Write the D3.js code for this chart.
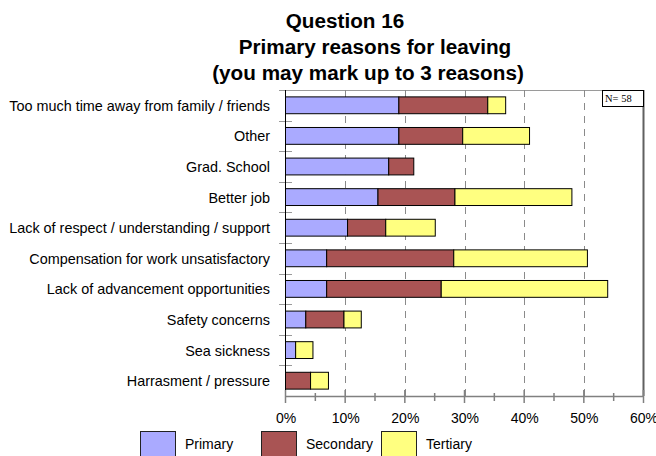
<!DOCTYPE html>
<html>
<head>
<meta charset="utf-8">
<script src="https://cdn.jsdelivr.net/npm/d3@7/dist/d3.min.js"></script>
<style>
  html, body { margin: 0; padding: 0; background: #fff; }
  svg { display: block; font-family: "Liberation Sans", Arial, sans-serif; }
</style>
</head>
<body>
<svg id="chart" width="656" height="456"></svg>
<script>
// Survey question 16: primary reasons for leaving (percent of respondents, N = 58)
const categories = [
  "Too much time away from family / friends",
  "Other",
  "Grad. School",
  "Better job",
  "Lack of respect / understanding / support",
  "Compensation for work unsatisfactory",
  "Lack of advancement opportunities",
  "Safety concerns",
  "Sea sickness",
  "Harrasment / pressure"
];
const primary   = [19.0, 19.0, 17.3, 15.5, 10.4,  6.9,  6.9, 3.4, 1.7, 0.0];
const secondary = [14.9, 10.7,  4.2, 12.9,  6.4, 21.3, 19.2, 6.4, 0.0, 4.2];
const tertiary  = [ 3.0, 11.2,  0.0, 19.6,  8.3, 22.4, 27.9, 2.9, 2.9, 3.0];
const seriesNames = ["Primary", "Secondary", "Tertiary"];
const seriesColors = ["#aaaaff", "#a95454", "#ffff80"];
const xTicks = [0, 10, 20, 30, 40, 50, 60];
const titleLines = ["Question 16", "Primary reasons for leaving", "(you may mark up to 3 reasons)"];
const sampleNote = "N= 58";

const svg = d3.select("#chart");

const plotLeft = 285.5, plotRight = 643.5, plotTop = 90, plotBottom = 396;

const x = d3.scaleLinear().domain([0, 60]).range([plotLeft, plotRight]);
const y = d3.scaleBand().domain(categories).range([plotTop, plotBottom])
  .paddingInner(0.45).paddingOuter(0.225);

// Title
const titleX = [345, 375, 368];
const titleY = [27.5, 54, 79.5];
svg.selectAll("text.title").data(titleLines).join("text")
  .attr("class", "title")
  .attr("x", (d, i) => titleX[i])
  .attr("y", (d, i) => titleY[i])
  .attr("text-anchor", "middle")
  .attr("font-size", 20.7)
  .attr("font-weight", "bold")
  .attr("fill", "#000")
  .text(d => d);

// Top frame line
svg.append("line")
  .attr("x1", 279).attr("x2", plotRight)
  .attr("y1", plotTop + 0.5).attr("y2", plotTop + 0.5)
  .attr("stroke", "#9a9a9a").attr("stroke-width", 1);

// Dashed vertical gridlines
svg.append("g").selectAll("line").data(xTicks.filter(t => t > 0 && t < 60)).join("line")
  .attr("x1", d => Math.round(x(d)) + 0.5).attr("x2", d => Math.round(x(d)) + 0.5)
  .attr("y1", plotTop).attr("y2", plotBottom)
  .attr("stroke", "#8a8a8a").attr("stroke-width", 1)
  .attr("stroke-dasharray", "7,6");

// Right frame line
svg.append("line")
  .attr("x1", plotRight).attr("x2", plotRight)
  .attr("y1", plotTop).attr("y2", plotBottom)
  .attr("stroke", "#606060").attr("stroke-width", 2);

// Category boundary ticks on the category axis
const step = y.step();
const bounds = d3.range(1, categories.length).map(i => plotTop + i * step);
svg.append("g").selectAll("line").data(bounds).join("line")
  .attr("x1", 279).attr("x2", 292)
  .attr("y1", d => Math.round(d) + 0.5).attr("y2", d => Math.round(d) + 0.5)
  .attr("stroke", "#9a9a9a").attr("stroke-width", 1);

// Stacked bars
const rows = categories.map((c, i) => ({ cat: c, vals: [primary[i], secondary[i], tertiary[i]] }));
const barG = svg.append("g");
rows.forEach(r => {
  let acc = 0;
  r.vals.forEach((v, k) => {
    if (v > 0) {
      barG.append("rect")
        .attr("x", x(acc))
        .attr("y", y(r.cat))
        .attr("width", x(acc + v) - x(acc))
        .attr("height", y.bandwidth())
        .attr("fill", seriesColors[k])
        .attr("stroke", "#000")
        .attr("stroke-width", 1);
    }
    acc += v;
  });
});

// Category labels
svg.append("g").selectAll("text").data(categories).join("text")
  .attr("x", 270)
  .attr("y", d => y(d) + y.bandwidth() / 2 + 5.5)
  .attr("text-anchor", "end")
  .attr("font-size", 14.4)
  .attr("fill", "#000")
  .text(d => d);

// Left axis line
svg.append("line")
  .attr("x1", plotLeft).attr("x2", plotLeft)
  .attr("y1", plotTop).attr("y2", plotBottom)
  .attr("stroke", "#000").attr("stroke-width", 1);

// Bottom value axis
const xAxis = d3.axisBottom(x).tickValues(xTicks).tickFormat(d => d + "%").tickSize(0);
const axG = svg.append("g").attr("transform", `translate(0,${plotBottom})`).call(xAxis);
axG.select(".domain").attr("stroke", "#808080").attr("stroke-width", 1.5);
axG.selectAll(".tick text")
  .attr("font-family", "'Liberation Sans', Arial, sans-serif")
  .attr("font-size", 14)
  .attr("fill", "#000")
  .attr("dy", null)
  .attr("y", 27);
// major and minor tick marks crossing the axis
svg.append("g").selectAll("line").data(xTicks).join("line")
  .attr("x1", d => x(d)).attr("x2", d => x(d))
  .attr("y1", plotBottom - 6).attr("y2", plotBottom + 7)
  .attr("stroke", "#808080").attr("stroke-width", 1.5);
svg.append("g").selectAll("line").data(xTicks.slice(0, -1).map(d => d + 5)).join("line")
  .attr("x1", d => x(d)).attr("x2", d => x(d))
  .attr("y1", plotBottom - 3).attr("y2", plotBottom + 5)
  .attr("stroke", "#808080").attr("stroke-width", 1.5);

// Sample size note
svg.append("rect")
  .attr("x", 602.5).attr("y", 90.5).attr("width", 41).attr("height", 16)
  .attr("fill", "#fff").attr("stroke", "#000").attr("stroke-width", 1);
svg.append("text")
  .attr("x", 605).attr("y", 101.5)
  .attr("font-family", "'Liberation Serif', 'Times New Roman', serif")
  .attr("font-size", 10.5)
  .attr("fill", "#000")
  .text(sampleNote);

// Legend
const legendBoxX = [140, 261, 381];
const legendTextX = [185, 306, 426];
const lg = svg.append("g");
seriesNames.forEach((name, k) => {
  lg.append("rect")
    .attr("x", legendBoxX[k] + 0.5).attr("y", 431.5)
    .attr("width", 35).attr("height", 30)
    .attr("fill", seriesColors[k]).attr("stroke", "#222").attr("stroke-width", 1);
  lg.append("text")
    .attr("x", legendTextX[k]).attr("y", 448.5)
    .attr("font-size", 14).attr("fill", "#000")
    .text(name);
});
</script>
</body>
</html>
